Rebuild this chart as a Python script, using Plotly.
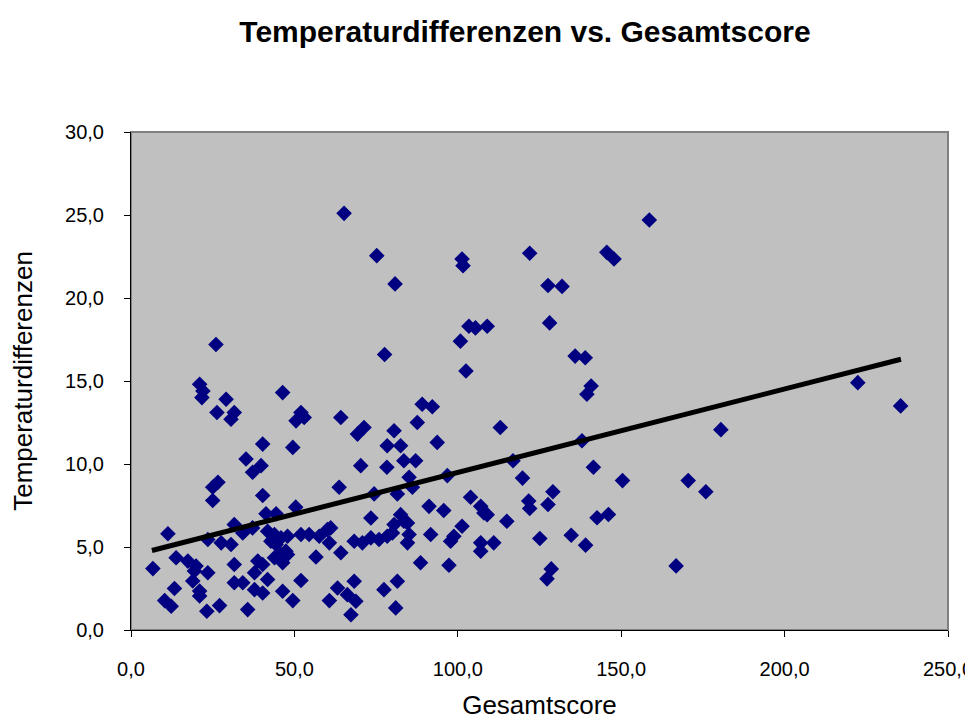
import plotly.graph_objects as go

# Gesamtscore (x) and Temperaturdifferenzen (y)
gesamtscore = [
    6.7, 11.3, 10.3, 12.3, 13.3, 13.8, 17.4, 19.9, 19.4, 18.9, 21.0, 21.0, 23.5, 23.2, 27.1,
    23.5, 27.6, 30.6, 31.6, 34.2, 37.2, 31.6, 31.6, 34.2, 35.7, 37.8, 38.8, 40.3, 41.8, 37.8,
    40.3, 43.9, 45.9, 47.4, 46.4, 47.9, 46.4, 49.5, 52.0, 41.8, 43.9, 45.9, 42.8, 44.4, 47.9,
    52.0, 54.5, 57.6, 41.3, 44.4, 50.4, 40.3, 25.0, 26.6, 25.0, 39.8, 37.2, 35.2, 40.3, 49.5,
    26.3, 30.6, 31.6, 29.1, 21.0, 22.0, 21.7, 26.0, 46.4, 52.0, 50.5, 53.0,
    56.6, 60.1, 61.1, 60.7, 64.2, 63.7, 64.2, 69.3, 71.3, 80.5, 87.6, 89.1, 92.2, 113.0,
    78.4, 82.5, 93.7, 70.3, 78.3, 83.5, 87.1, 85.1, 86.1, 96.8, 74.4, 81.5, 103.9, 91.2,
    95.7, 107.0, 108.0, 109.0, 115.0, 73.4, 82.5, 83.5, 80.5, 84.6, 68.3, 70.8, 73.4, 75.9,
    78.4, 80.0, 85.1, 84.6, 91.7, 98.8, 97.8, 101.3, 107.0, 107.0, 111.0, 88.6, 97.3,
    63.2, 68.3, 66.2, 68.8, 60.7, 67.3, 77.4, 81.5, 81.0,
    65.2, 75.2, 80.8, 101.3, 101.6, 103.4, 105.4, 109.0, 100.8, 77.6, 102.5,
    158.6, 122.0, 145.6, 147.8, 127.6, 131.9, 128.1, 135.9, 139.0, 140.8, 139.5, 138.0,
    116.9, 141.5, 150.4, 170.5, 119.8, 121.7, 122.0, 129.1, 127.6, 142.6, 146.1, 125.1,
    134.7, 139.1, 128.6, 127.3, 166.8, 180.5, 175.9, 222.4, 235.5,
]
temperaturdifferenzen = [
    3.7, 5.8, 1.77, 1.43, 2.5, 4.35, 4.15, 3.85, 3.55, 2.95, 2.35, 2.05, 3.45, 1.13, 1.47,
    5.45, 5.25, 5.15, 6.35, 5.85, 6.15, 3.95, 2.85, 2.85, 1.23, 3.45, 4.15, 3.95, 3.04, 2.43,
    2.23, 4.35, 4.55, 4.75, 4.05, 4.55, 2.33, 1.77, 2.98, 5.95, 5.75, 5.55, 5.35, 5.15, 5.65,
    5.75, 5.75, 5.65, 7.0, 7.0, 7.4, 8.1, 7.8, 8.9, 8.6, 9.9, 9.5, 10.3, 11.2, 11.0,
    13.1, 12.7, 13.1, 13.9, 14.8, 14.4, 14.0, 17.2, 14.3, 13.1, 12.6, 12.8,
    4.4, 6.05, 6.15, 5.25, 4.65, 8.6, 12.8, 11.8, 12.2, 12.0, 12.5, 13.6, 13.45, 12.2,
    11.1, 11.1, 11.3, 9.9, 9.8, 10.2, 10.2, 9.2, 8.6, 9.3, 8.2, 8.2, 8.0, 7.45,
    7.2, 7.45, 7.05, 6.95, 6.55, 6.75, 6.95, 6.55, 6.35, 6.45, 5.35, 5.25, 5.55, 5.45,
    5.65, 5.85, 5.75, 5.25, 5.75, 5.65, 5.35, 6.25, 5.25, 4.75, 5.25, 4.05, 3.9,
    2.53, 2.94, 2.13, 1.73, 1.77, 0.92, 2.43, 2.94, 1.33,
    25.1, 22.55, 20.85, 22.35, 21.95, 18.3, 18.2, 18.3, 17.4, 16.6, 15.6,
    24.7, 22.7, 22.75, 22.35, 20.75, 20.7, 18.5, 16.5, 16.4, 14.7, 14.2, 11.4,
    10.2, 9.8, 9.0, 9.0, 9.15, 7.77, 7.32, 8.33, 7.56, 6.76, 6.96, 5.51,
    5.71, 5.11, 3.68, 3.08, 3.86, 12.07, 8.33, 14.9, 13.5,
]
# linear trendline (as shown in the reference), start and end values
trend_x = [6.4, 235.6]
trend_y = [4.79, 16.31]

x_ticks = [0, 50, 100, 150, 200, 250]
y_ticks = [0, 5, 10, 15, 20, 25, 30]

FONT = "Liberation Sans, Arial, sans-serif"

fig = go.Figure()
fig.add_trace(go.Scatter(
    x=gesamtscore, y=temperaturdifferenzen, mode="markers",
    marker=dict(symbol="diamond", size=12, color="#000080",
                line=dict(width=0)),
    showlegend=False, hoverinfo="x+y",
))
fig.add_trace(go.Scatter(
    x=trend_x, y=trend_y, mode="lines",
    line=dict(color="black", width=5),
    showlegend=False, hoverinfo="skip",
))

fig.update_layout(
    width=973, height=720,
    paper_bgcolor="white", plot_bgcolor="#C0C0C0",
    margin=dict(l=123, r=33, t=124, b=98, autoexpand=False),
    separators=",.",
    font=dict(family=FONT, size=20, color="black"),
    title=dict(text="<b>Temperaturdifferenzen vs. Gesamtscore</b>",
               x=517 / 973, xref="container", xanchor="center",
               y=1 - 23 / 720, yref="container", yanchor="middle",
               font=dict(family=FONT, size=30, color="black")),
    shapes=[dict(type="rect", xref="paper", yref="paper", x0=0, y0=0, x1=1, y1=1,
                 line=dict(color="#808080", width=2), layer="below")],
)
fig.update_xaxes(
    range=[0, 250], tickvals=x_ticks, tickformat=".1f",
    showgrid=False, zeroline=False,
    showline=True, linecolor="black", linewidth=1,
    ticks="outside", ticklen=6, tickcolor="black", tickwidth=1,
    ticklabelstandoff=15,
    tickfont=dict(size=20),
    title=dict(text="Gesamtscore", font=dict(size=26), standoff=16),
)
fig.update_yaxes(
    range=[0, 30], tickvals=y_ticks, tickformat=".1f",
    showgrid=False, zeroline=False,
    showline=True, linecolor="black", linewidth=1,
    ticks="outside", ticklen=6, tickcolor="black", tickwidth=1,
    ticklabelstandoff=16,
    tickfont=dict(size=20),
    title=dict(text="Temperaturdifferenzen", font=dict(size=26), standoff=24),
)

fig.write_html("out.html")
